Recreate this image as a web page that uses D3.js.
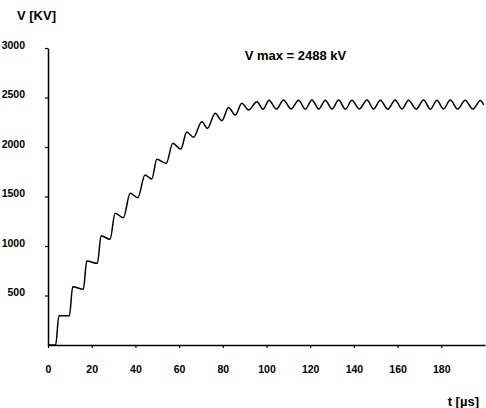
<!DOCTYPE html>
<html>
<head>
    <title>V(t) chart</title>
    <script src="https://d3js.org/d3.v7.min.js"></script>
    <style>
        body { margin: 0; background: #fff; }
        svg text { font-family: "Liberation Sans", Arial, sans-serif; font-weight: bold; fill: #000; }
    </style>
</head>
<body>
    <svg id="chart" width="486" height="408"></svg>

    <script>
    // time in microseconds, voltage in kV (peaks and troughs)
    var times = [0, 3.5, 5.0, 9.8, 11.3, 16.2, 17.7, 22.6, 24.3, 28.4, 30.7, 34.5,
        37.6, 41.1, 44.4, 47.5, 49.8, 54.1, 57.1, 60.8, 63.5, 66.6, 70.4, 73.0,
        76.5, 79.6, 82.6, 85.7, 88.7, 91.8, 95.6, 98.4, 101.2, 104.5, 107.8, 111.2,
        114.7, 117.8, 120.8, 123.9, 126.9, 130.0, 133.0, 136.1, 139.1, 142.5, 146.0,
        149.0, 152.1, 155.5, 158.9, 162.0, 165.0, 168.5, 171.9, 175.0, 178.0, 181.0,
        184.1, 187.5, 190.9, 194.4, 197.9, 199.4];

    var volts = [0, 0, 296, 296, 589, 563, 848, 825, 1104, 1068, 1330, 1286,
        1532, 1488, 1717, 1677, 1876, 1835, 2037, 1980, 2152, 2098, 2255, 2189,
        2340, 2266, 2400, 2323, 2441, 2374, 2458, 2381, 2472, 2383, 2475, 2384,
        2472, 2382, 2476, 2384, 2472, 2383, 2474, 2382, 2472, 2384, 2475, 2383,
        2472, 2382, 2474, 2384, 2472, 2383, 2475, 2382, 2472, 2384, 2474, 2383,
        2472, 2383, 2470, 2425];

    var yTicks = [500, 1000, 1500, 2000, 2500, 3000];
    var xTicks = [0, 20, 40, 60, 80, 100, 120, 140, 160, 180];

    var vMaxText = "V max = 2488 kV";
    var vMaxPos = [90, 2880];

    var svg = d3.select("#chart");

    var xScale = d3.scaleLinear()
        .domain([0, 200])
        .range([48, 485]);

    var yScale = d3.scaleLinear()
        .domain([0, 3000])
        .range([345, 48]);

    var data = times.map(function(t, i) { return { t: t, v: volts[i] }; });

    // curve
    var line = d3.line()
        .x(function(d) { return xScale(d.t); })
        .y(function(d) { return yScale(d.v); })
        .curve(d3.curveMonotoneX);

    svg.append("path")
        .datum(data)
        .attr("d", line)
        .attr("fill", "none")
        .attr("stroke", "#000")
        .attr("stroke-width", 1.5)
        .attr("stroke-linejoin", "round");

    // axes
    var xAxis = svg.append("g")
        .attr("transform", "translate(0," + yScale(0) + ")")
        .call(d3.axisBottom(xScale).tickValues(xTicks).tickFormat(d3.format("d"))
            .tickSize(3).tickSizeOuter(0).tickPadding(17.5));

    var yAxis = svg.append("g")
        .attr("transform", "translate(" + xScale(0) + ",0)")
        .call(d3.axisLeft(yScale).tickValues(yTicks).tickFormat(d3.format("d"))
            .tickSize(3).tickSizeOuter(0).tickPadding(20));

    [xAxis, yAxis].forEach(function(ax) {
        ax.attr("font-family", null).attr("font-size", null);
        ax.select(".domain").attr("stroke", "#000").attr("stroke-width", 1.5);
        ax.selectAll(".tick line").attr("stroke", "#000").attr("stroke-width", 1.2);
        ax.selectAll(".tick text").style("font-size", "10.5px");
    });
    yAxis.selectAll(".tick text").attr("dy", "0");

    // labels
    svg.append("text")
        .attr("x", 17)
        .attr("y", 20)
        .style("font-size", "13px")
        .text("V [KV]");

    svg.append("text")
        .attr("x", 479)
        .attr("y", 406)
        .attr("text-anchor", "end")
        .style("font-size", "13px")
        .text("t [\u00b5s]");

    svg.append("text")
        .attr("x", xScale(vMaxPos[0]))
        .attr("y", yScale(vMaxPos[1]))
        .style("font-size", "13px")
        .text(vMaxText);
    </script>
</body>
</html>
